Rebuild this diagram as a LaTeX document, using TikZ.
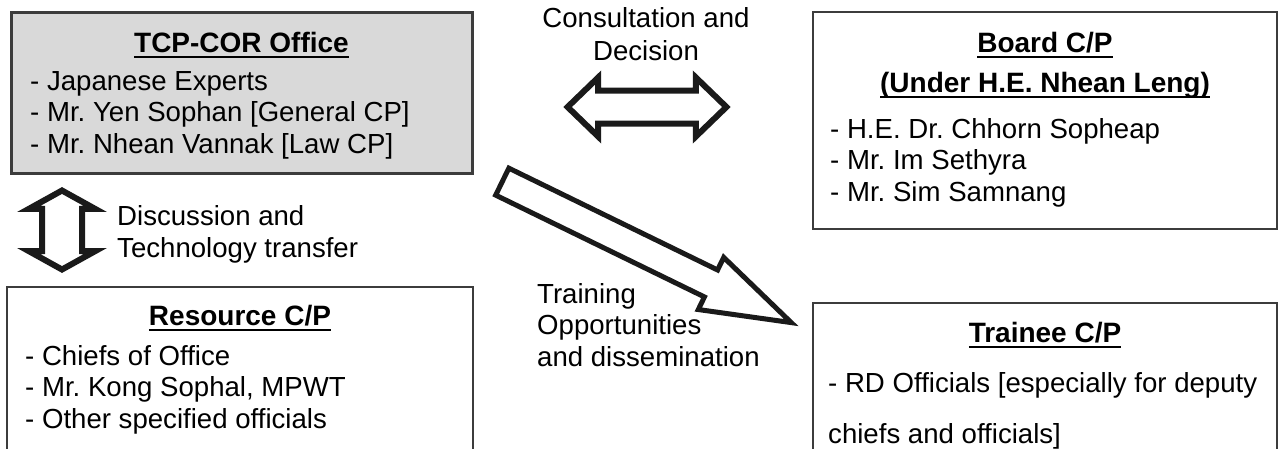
\documentclass[tikz,border=0pt]{standalone}
\usepackage{xcolor}
\usepackage{fontspec}
\usepackage{tikz}
\setmainfont{Liberation Sans}
\frenchspacing
\definecolor{officeGray}{RGB}{217, 217, 217}
\definecolor{frameGray}{RGB}{60, 60, 60}
\definecolor{arrowBlack}{RGB}{26, 26, 26}
\usetikzlibrary{shapes.arrows}

\newcommand{\cptitle}[1]{\setbox0\hbox{#1}\rlap{\rule[-6pt]{\wd0}{2pt}}\box0}

\tikzset{
    cpbox/.style={draw=frameGray, line width=2pt, inner sep=0pt},
    titletext/.style={anchor=base, inner sep=0pt, font=\fontsize{28}{32}\selectfont\bfseries},
    listtext/.style={anchor=base west, align=left, inner sep=0pt, font=\fontsize{27.6}{31.5}\selectfont},
    hollowArrow/.style={draw=arrowBlack, fill=white, inner xsep=0pt, line join=miter}
}

\begin{document}
\begin{tikzpicture}[x=1pt, y=-1pt]
        \useasboundingbox (0,0) rectangle (1279,448);
        \fill[white] (0,0) rectangle (1279,448);
        \clip (0,0) rectangle (1279,448);
        % the four groups (lists are placed by their last line)
        \node[cpbox, fill=officeGray, line width=3pt, minimum width=461pt, minimum height=161pt] (tcp) at (241.5,92.5) {};
        \node[cpbox, minimum width=464pt, minimum height=217pt] (board) at (1045,120.5) {};
        \node[cpbox, minimum width=466pt, minimum height=173pt] (resource) at (240,373.5) {};
        \node[cpbox, minimum width=464pt, minimum height=157pt] (trainee) at (1045,381.5) {};
        \node[titletext] (tcpTitle) at (241.5,52) {\cptitle{TCP-COR Office}};
        \node[listtext] (tcpList) at (30,153) {- Japanese Experts\\- Mr. Yen Sophan [General CP]\\- Mr. Nhean Vannak [Law CP]};
        \node[titletext] (boardTitle) at (1045,52) {\cptitle{Board C/P}};
        \node[titletext] (boardSub) at (1045,92) {\cptitle{(Under H.E. Nhean Leng)}};
        \node[listtext] (boardList) at (830,201) {- H.E. Dr. Chhorn Sopheap\\- Mr. Im Sethyra\\- Mr. Sim Samnang};
        \node[titletext] (resourceTitle) at (240,325) {\cptitle{Resource C/P}};
        \node[listtext] (resourceList) at (25,428) {- Chiefs of Office\\- Mr. Kong Sophal, MPWT\\- Other specified officials};
        \node[titletext] (traineeTitle) at (1045,342) {\cptitle{Trainee C/P}};
        \node[listtext] (traineeList) at (828,443) {- RD Officials [especially for deputy\\[19.5pt]chiefs and officials]};
        % block arrows and their labels
        \node[hollowArrow, double arrow, line width=6pt, inner ysep=13.5pt, double arrow head extend=13pt, double arrow tip angle=88, minimum height=158.8pt] (consultArrow) at (647,107) {};
        \node[listtext, anchor=base, align=center] (consultLabel) at (646,60) {Consultation and\\[1.5pt]Decision};
        \node[hollowArrow, double arrow, rotate=90, line width=6pt, inner ysep=17pt, double arrow head extend=13pt, double arrow tip angle=122, minimum height=79pt] (discussArrow) at (62,230) {};
        \node[listtext] (discussLabel) at (117,257) {Discussion and\\Technology transfer};
        \node[hollowArrow, single arrow, rotate=-26, line width=5pt, inner ysep=12.5pt, single arrow head extend=14pt, single arrow tip angle=36, minimum height=321.5pt] (trainArrow) at (626,242) {};
        \node[listtext] (trainLabel) at (537,366) {Training\\Opportunities\\and dissemination};
    \end{tikzpicture}
\end{document}
